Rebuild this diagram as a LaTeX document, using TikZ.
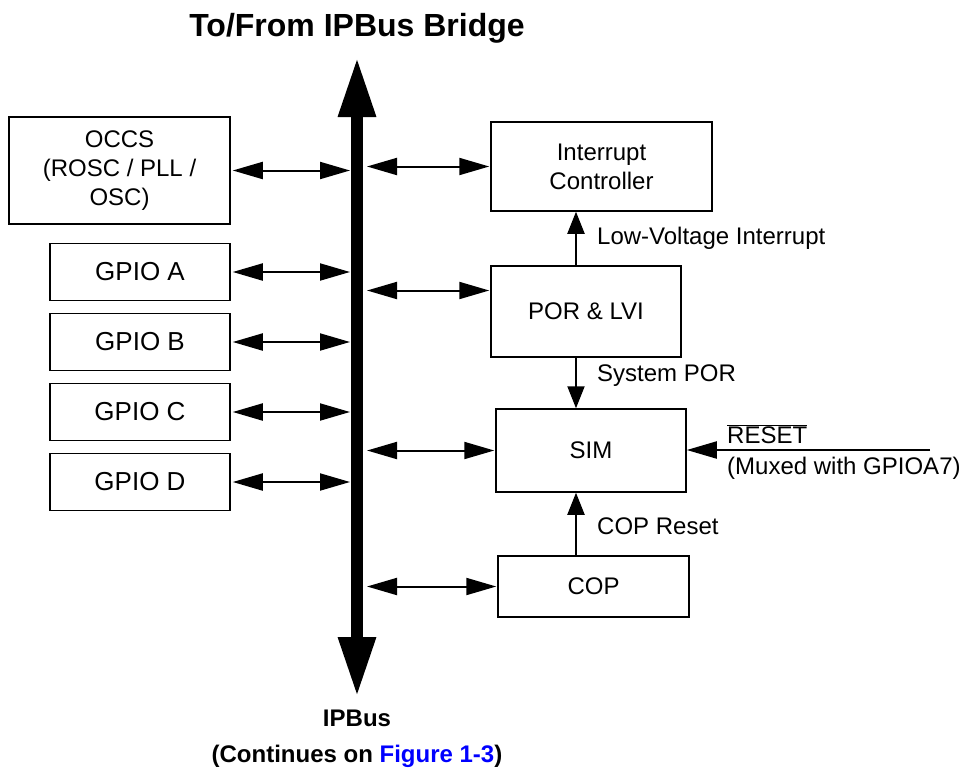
\documentclass[tikz,border=0pt]{standalone}
\usepackage{fontspec}
\setmainfont{Liberation Sans}
\usetikzlibrary{arrows.meta}

\begin{document}
\begin{tikzpicture}[x=1pt,y=-1pt,
  box/.style={draw,line width=1.5pt,align=center,inner sep=0pt,font=\fontsize{24}{29}\selectfont},
  gpio/.style={box,minimum width=180pt,minimum height=57pt,font=\fontsize{26}{30}\selectfont},
  lbl/.style={anchor=west,inner sep=0pt,font=\fontsize{24}{29}\selectfont},
  big/.style={inner sep=0pt,font=\bfseries\fontsize{24}{29}\selectfont},
  bi/.style={line width=2pt,{Triangle[length=30pt,width=17pt]}-{Triangle[length=30pt,width=17pt]}},
  up/.style={line width=2pt,-{Triangle[length=22pt,width=17pt]}},
  side/.style={line width=2pt,-{Triangle[length=30pt,width=17pt]}},
  bus/.style={line width=12pt,{Triangle[length=60pt,width=35pt]}-{Triangle[length=60pt,width=35pt]}}]
  \useasboundingbox (0,0) rectangle (963,771);

  \coordinate (btop) at (357,57);
  \coordinate (bbot) at (357,697);
  \coordinate (vx) at (576,0);
  \coordinate (rst) at (930,450);

  \node[big,font=\bfseries\fontsize{32}{36}\selectfont] (title) at (357,28) {To/From IPBus Bridge};
  \node[big] (ipbus) at (357,718) {IPBus};
  \node[big] (cont) at (357,756) {(Continues on \textcolor{blue}{Figure 1-3})};

  \node[box,minimum width=221pt,minimum height=107pt] (occs) at (119.5,170.5) {OCCS\\(ROSC / PLL /\\OSC)};
  \node[gpio] (gpa) at (140,272) {GPIO A};
  \node[gpio] (gpb) at (140,342) {GPIO B};
  \node[gpio] (gpc) at (140,412) {GPIO C};
  \node[gpio] (gpd) at (140,482) {GPIO D};

  \node[box,minimum width=221pt,minimum height=89pt] (ic) at (601.5,166.5) {Interrupt\\Controller};
  \node[box,minimum width=190pt,minimum height=91pt] (por) at (586,311.5) {POR \& LVI};
  \node[box,minimum width=190pt,minimum height=83pt] (sim) at (591,450.5) {SIM};
  \node[box,minimum width=191pt,minimum height=61pt] (cop) at (593.5,586.5) {COP};

  \node[lbl] (lvint) at (597,238) {Low-Voltage Interrupt};
  \node[lbl] (syspor) at (597,376) {System POR};
  \node[lbl] (copres) at (597,526) {COP Reset};
  \node[lbl] (rstlbl) at (727,434) {$\overline{\mbox{RESET}}$};
  \node[lbl] (muxlbl) at (727,468) {(Muxed with GPIOA7)};

  \draw[bus] (bbot) -- (btop);

  \draw[bi,shorten <=2pt,shorten >=7pt] (occs.east) -- (occs.east -| btop);
  \draw[bi,shorten <=2pt,shorten >=7pt] (gpa.east) -- (gpa.east -| btop);
  \draw[bi,shorten <=2pt,shorten >=7pt] (gpb.east) -- (gpb.east -| btop);
  \draw[bi,shorten <=2pt,shorten >=7pt] (gpc.east) -- (gpc.east -| btop);
  \draw[bi,shorten <=2pt,shorten >=7pt] (gpd.east) -- (gpd.east -| btop);

  \draw[bi,shorten <=10pt,shorten >=1pt] (ic.west -| btop) -- (ic.west);
  \draw[bi,shorten <=10pt,shorten >=1pt] ([yshift=21pt]por.west -| btop) -- ([yshift=21pt]por.west);
  \draw[bi,shorten <=10pt,shorten >=1pt] (sim.west -| btop) -- (sim.west);
  \draw[bi,shorten <=10pt,shorten >=1pt] (cop.west -| btop) -- (cop.west);

  \draw[up] (por.north -| vx) -- (ic.south -| vx);
  \draw[up] (por.south -| vx) -- (sim.north -| vx);
  \draw[up] (cop.north -| vx) -- (sim.south -| vx);
  \draw[side] (rst) -- (rst -| sim.east);
\end{tikzpicture}
\end{document}
